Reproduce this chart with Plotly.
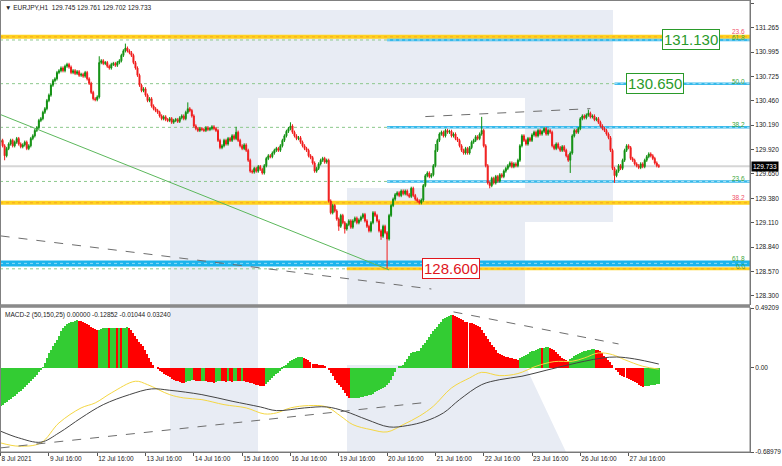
import plotly.graph_objects as go

# ---------------- data ----------------
symbol_header = "\u25BC EURJPY,H1  129.745 129.761 129.702 129.733"
macd_header = "MACD-2 (50,150,25) 0.00000 -0.12852 -0.01044 0.03240"

first_open = 130.00
closes = [
130.02,129.96,129.85,129.93,129.98,130.02,129.96,130.00,130.04,129.98,
129.95,129.97,130.00,129.93,129.96,130.04,130.07,130.13,130.16,130.24,
130.26,130.33,130.37,130.46,130.52,130.63,130.68,130.70,130.77,130.79,
130.82,130.79,130.84,130.86,130.83,130.77,130.79,130.76,130.78,130.74,
130.75,130.73,130.77,130.70,130.65,130.55,130.48,130.47,130.50,130.88,
130.90,130.87,130.88,130.84,130.82,130.86,130.87,130.85,130.88,130.90,
130.96,131.01,131.04,131.01,130.99,130.96,130.88,130.82,130.74,130.63,
130.57,130.59,130.52,130.46,130.48,130.40,130.37,130.35,130.33,130.29,
130.26,130.28,130.25,130.24,130.26,130.22,130.24,130.25,130.23,130.27,
130.29,130.26,130.33,130.37,130.35,130.29,130.18,130.15,130.13,130.15,
130.14,130.13,130.16,130.14,130.15,130.17,130.15,130.13,130.02,129.94,
129.96,130.02,129.98,130.04,130.02,130.07,130.04,130.11,130.02,129.96,
129.93,129.97,129.91,129.80,129.68,129.67,129.71,129.68,129.73,129.70,
129.66,129.74,129.82,129.85,129.84,129.88,129.91,129.93,129.91,129.96,
130.02,130.07,130.12,130.15,130.18,130.11,130.07,130.04,130.05,130.00,
129.96,129.93,129.91,129.85,129.83,129.77,129.68,129.71,129.76,129.80,
129.82,129.78,129.80,129.35,129.22,129.30,129.24,129.15,129.07,129.19,
129.11,129.04,129.09,129.13,129.06,129.13,129.16,129.11,129.14,129.17,
129.20,129.13,129.07,129.02,129.11,129.22,129.19,129.13,129.02,128.96,
129.07,129.00,128.93,129.19,129.30,129.37,129.42,129.44,129.41,129.46,
129.43,129.46,129.42,129.40,129.49,129.41,129.37,129.35,129.33,129.36,
129.52,129.63,129.66,129.62,129.64,129.74,129.91,130.02,130.09,130.11,
130.07,130.13,130.11,130.12,130.07,130.09,130.04,130.02,129.96,129.91,
129.88,129.93,129.88,129.94,130.00,130.02,130.06,130.04,130.09,130.13,
129.96,129.74,129.55,129.52,129.60,129.55,129.62,129.57,129.64,129.62,
129.68,129.71,129.74,129.77,129.73,129.76,129.74,129.80,129.96,130.07,
130.02,129.98,130.04,130.02,130.08,130.11,130.07,130.13,130.09,130.12,
130.15,130.09,130.13,130.11,129.96,129.93,129.98,129.94,129.91,129.95,
129.91,129.85,129.80,129.88,130.07,130.13,130.11,130.15,130.26,130.29,
130.27,130.30,130.32,130.28,130.29,130.25,130.26,130.22,130.18,130.15,
130.13,130.09,130.05,129.91,129.71,129.63,129.68,129.74,129.71,129.80,
129.91,129.96,129.94,129.82,129.80,129.76,129.74,129.72,129.76,129.73,
129.80,129.84,129.87,129.85,129.82,129.77,129.74,129.733,
]
typical_wick = 0.018
spike_highs = {49: 130.95, 62: 131.09, 93: 130.44, 117: 130.17, 144: 130.22,
               239: 130.28, 292: 130.36, 216: 129.98}
spike_lows = {2: 129.80, 192: 128.60, 243: 129.49, 283: 129.66, 305: 129.55,
              189: 128.92, 168: 129.02, 171: 128.99}

hist = [
-0.310,-0.300,-0.288,-0.276,-0.264,-0.252,-0.240,-0.228,-0.214,-0.200,
-0.186,-0.171,-0.156,-0.140,-0.123,-0.106,-0.089,-0.072,-0.055,-0.037,
-0.019,0.002,0.040,0.080,0.120,0.150,0.180,0.205,0.230,0.265,
0.300,0.330,0.345,0.360,0.368,0.375,0.380,0.385,0.390,0.388,
0.385,0.378,0.370,0.360,0.350,0.340,0.330,0.320,0.310,0.315,
0.320,0.324,0.327,0.330,0.325,0.327,0.329,0.330,0.328,0.330,
0.329,0.330,0.331,0.333,0.325,0.310,0.287,0.265,0.240,0.215,
0.195,0.180,0.150,0.115,0.080,0.050,0.025,0.000,-0.012,-0.024,
-0.036,-0.046,-0.055,-0.066,-0.077,-0.087,-0.096,-0.103,-0.110,-0.116,
-0.120,-0.123,-0.118,-0.110,-0.103,-0.096,-0.100,-0.105,-0.108,-0.110,
-0.106,-0.104,-0.108,-0.112,-0.116,-0.118,-0.120,-0.114,-0.110,-0.107,
-0.109,-0.110,-0.113,-0.106,-0.108,-0.112,-0.110,-0.104,-0.106,-0.108,
-0.105,-0.110,-0.114,-0.118,-0.120,-0.126,-0.132,-0.138,-0.143,-0.146,
-0.149,-0.150,-0.135,-0.115,-0.095,-0.080,-0.066,-0.052,-0.040,-0.027,
-0.010,0.008,0.025,0.040,0.055,0.066,0.075,0.082,0.087,0.090,
0.092,0.085,0.075,0.068,0.050,0.036,0.033,0.030,0.028,0.026,
0.025,0.012,0.000,-0.020,-0.045,-0.068,-0.095,-0.120,-0.140,-0.155,
-0.180,-0.205,-0.230,-0.250,-0.249,-0.248,-0.247,-0.246,-0.243,-0.240,
-0.236,-0.232,-0.228,-0.224,-0.220,-0.210,-0.200,-0.190,-0.178,-0.172,
-0.165,-0.156,-0.140,-0.120,-0.096,-0.065,-0.032,0.000,0.010,0.018,
0.027,0.050,0.075,0.100,0.123,0.130,0.134,0.137,0.140,0.160,
0.185,0.205,0.230,0.255,0.280,0.300,0.320,0.340,0.360,0.380,
0.400,0.410,0.420,0.430,0.437,0.432,0.428,0.420,0.410,0.400,
0.390,0.380,0.375,0.370,0.365,0.360,0.353,0.347,0.340,0.315,
0.290,0.260,0.238,0.214,0.190,0.168,0.145,0.123,0.113,0.104,
0.096,0.090,0.086,0.082,0.078,0.074,0.071,0.068,0.080,0.092,
0.102,0.110,0.118,0.128,0.137,0.143,0.150,0.157,0.164,0.160,
0.167,0.170,0.172,0.165,0.158,0.150,0.132,0.114,0.096,0.085,
0.075,0.065,0.055,0.070,0.085,0.098,0.110,0.117,0.124,0.131,
0.137,0.142,0.146,0.150,0.153,0.156,0.150,0.144,0.137,0.120,
0.102,0.085,0.068,0.045,0.022,0.000,-0.018,-0.037,-0.055,-0.064,
-0.072,-0.080,-0.088,-0.096,-0.106,-0.116,-0.127,-0.137,-0.147,-0.156,
-0.152,-0.148,-0.145,-0.142,-0.140,-0.137,-0.133,-0.1285,
]

signal_idx = [0,9,20,29,40,47,55,67,73,84,91,100,111,122,131,137,144,153,162,169,
              175,184,192,200,208,215,224,233,239,248,257,266,275,284,290,297,304,310,319,327]
signal_val = [-0.615,-0.642,-0.615,-0.451,-0.328,-0.287,-0.205,-0.109,-0.137,-0.219,
              -0.246,-0.260,-0.301,-0.328,-0.377,-0.369,-0.328,-0.309,-0.320,-0.396,
              -0.465,-0.506,-0.525,-0.465,-0.396,-0.314,-0.164,-0.082,-0.036,-0.063,
              -0.046,0.014,0.052,0.055,0.082,0.123,0.109,0.068,0.014,-0.010]
main_idx = [0,9,20,29,40,51,64,75,84,100,115,129,137,151,162,171,182,193,202,211,
            220,228,239,248,259,271,282,290,299,306,315,327]
main_val = [-0.519,-0.574,-0.609,-0.533,-0.410,-0.301,-0.219,-0.172,-0.183,-0.219,
            -0.273,-0.320,-0.350,-0.328,-0.320,-0.355,-0.424,-0.484,-0.473,-0.437,
            -0.369,-0.260,-0.137,-0.096,-0.068,-0.019,0.025,0.055,0.082,0.090,
            0.074,0.032]

tick_idx = [0,24,48,72,96,120,144,168,192,216,240,264,288,312]
tick_text = ["8 Jul 2021","9 Jul 16:00","12 Jul 16:00","13 Jul 16:00","14 Jul 16:00",
             "15 Jul 16:00","16 Jul 16:00","19 Jul 16:00","20 Jul 16:00","21 Jul 16:00",
             "22 Jul 16:00","23 Jul 16:00","26 Jul 16:00","27 Jul 16:00"]
price_ticks = [131.535,131.265,130.995,130.725,130.460,130.190,129.920,129.650,
               129.380,129.110,128.840,128.570,128.300]
macd_ticks = [0.49209, 0.0, -0.68979]
macd_tick_text = ["0.49209", "0.00", "-0.68979"]

# Fibonacci (cyan set) anchored at the 20 Jul low
fib_anchor_idx = 192
fib_levels = [128.600, 129.566, 130.164, 130.647, 131.130]
fib_labels = ["0.0", "23.6", "38.2", "50.0", "61.8"]
fib_start_idx = [172, 192, 192, 305, 192]
# other (gold / red-labelled) levels
gold_levels = [131.165, 129.330]
gold_labels = ["23.6", "38.2"]
blue_band_level = 128.660
blue_band_label = "61.8"
last_price = 129.733

box_labels = [("131.130", 343, 131.130, "#2a9a2a"),
              ("130.650", 325, 130.650, "#2a9a2a"),
              ("128.600", 224, 128.600, "#e0161c")]

trend_green = ([0, 193], [130.305, 128.588])
dash_price_1 = ([0, 214], [128.964, 128.377])
dash_price_2 = ([211, 293], [130.283, 130.371])
dash_macd_1 = ([225, 307], [0.460, 0.197])
dash_macd_2 = ([0, 209], [-0.656, -0.287])

# ---------------- build ----------------
n = len(closes)
xs = list(range(n))
opens = [first_open] + closes[:-1]
highs = [max(o, c) + typical_wick for o, c in zip(opens, closes)]
lows = [min(o, c) - typical_wick for o, c in zip(opens, closes)]
for k, v in spike_highs.items():
    highs[k] = max(highs[k], v)
for k, v in spike_lows.items():
    lows[k] = min(lows[k], v)

hist_colors = ["#33cc33" if i == 0 or hist[i] >= hist[i - 1] else "#ff0000" for i in range(len(hist))]

XMIN, XMAX = -0.3, 372.3
W, H = 782, 466
ML, MR, MT, MB = 0, 32, 0, 14
PW, PH = W - ML - MR, H - MT - MB


def px(xp):
    return xp / PW


def py(yp):
    return (PH - yp) / PH


FONT = "Liberation Sans"
TXT = "#222222"
fig = go.Figure()

fig.add_trace(go.Candlestick(
    x=xs, open=opens, high=highs, low=lows, close=closes,
    increasing=dict(line=dict(color="#0f8f0f", width=1), fillcolor="#0f8f0f"),
    decreasing=dict(line=dict(color="#f01c1c", width=1), fillcolor="#f01c1c"),
    whiskerwidth=0, showlegend=False, hoverinfo="skip", xaxis="x", yaxis="y"))

fig.add_trace(go.Scatter(x=trend_green[0], y=trend_green[1], mode="lines", line=dict(color="#5cb85c", width=1),
                         showlegend=False, hoverinfo="skip", xaxis="x", yaxis="y"))
for xx, yy in [dash_price_1, dash_price_2]:
    fig.add_trace(go.Scatter(x=xx, y=yy, mode="lines", line=dict(color="#6e6e6e", width=1, dash="dash"),
                             showlegend=False, hoverinfo="skip", xaxis="x", yaxis="y"))

fig.add_trace(go.Bar(x=xs, y=hist, marker=dict(color=hist_colors, line=dict(width=0)), width=0.6,
                     showlegend=False, hoverinfo="skip", xaxis="x2", yaxis="y2"))
fig.add_trace(go.Scatter(x=signal_idx, y=signal_val, mode="lines", line=dict(color="#f5d742", width=1, shape="spline"),
                         showlegend=False, hoverinfo="skip", xaxis="x2", yaxis="y2"))
fig.add_trace(go.Scatter(x=main_idx, y=main_val, mode="lines", line=dict(color="#444444", width=1, shape="spline"),
                         showlegend=False, hoverinfo="skip", xaxis="x2", yaxis="y2"))
for xx, yy in [dash_macd_1, dash_macd_2]:
    fig.add_trace(go.Scatter(x=xx, y=yy, mode="lines", line=dict(color="#6e6e6e", width=1, dash="dash"),
                             showlegend=False, hoverinfo="skip", xaxis="x2", yaxis="y2"))

shapes = []
WM = "#e8ecf4"


def rect_px(x0, y0, x1, y1):
    shapes.append(dict(type="rect", xref="paper", yref="paper", x0=px(x0), x1=px(x1),
                       y0=py(y1), y1=py(y0), fillcolor=WM, line=dict(width=0), layer="below"))


# watermark logo (paper coordinates)
rect_px(170, 10, 258, 452)
rect_px(258, 10, 613, 98)
rect_px(525, 10, 613, 222)
rect_px(347, 188, 613, 222)
rect_px(347, 188, 525, 305)
shapes.append(dict(type="path", xref="paper", yref="paper",
                   path=f"M {px(347)} {py(365)} L {px(525)} {py(365)} L {px(566)} {py(452)} L {px(347)} {py(452)} Z",
                   fillcolor=WM, line=dict(width=0), layer="below"))


def hline(y, x0, x1, color, width, dash="solid"):
    shapes.append(dict(type="line", xref="x", yref="y", x0=x0, x1=x1, y0=y, y1=y,
                       line=dict(color=color, width=width, dash=dash), layer="below"))


# current price line
hline(last_price, XMIN, XMAX, "#d6d6d6", 2)
# gold bands
for lv in gold_levels:
    hline(lv, XMIN, XMAX, "#ffd21f", 4)
    hline(lv, XMIN, XMAX, "#f5a623", 1, "dot")
# blue band
hline(blue_band_level, XMIN, XMAX, "#1cb4ec", 6)
hline(blue_band_level, XMIN, XMAX, "#8fdcf8", 1, "dot")
# fib levels
for lv, lab, st in zip(fib_levels, fib_labels, fib_start_idx):
    hline(lv, XMIN, st, "#8cc88c", 1, "dot")
    if lab == "0.0":
        hline(lv, st, XMAX, "#ffd21f", 3)
        hline(lv, st, XMAX, "#f5a623", 1, "dot")
    else:
        hline(lv, st, XMAX, "#36b9ea", 2.5)
        hline(lv, st, XMAX, "#a8e2fa", 1, "dot")

# pane frames and separator
shapes.append(dict(type="rect", xref="paper", yref="paper", x0=px(0.5), x1=px(750), y0=py(305), y1=py(0.5),
                   line=dict(color="#808080", width=1), fillcolor="rgba(0,0,0,0)"))
shapes.append(dict(type="rect", xref="paper", yref="paper", x0=px(0.5), x1=px(750), y0=py(452), y1=py(307),
                   line=dict(color="#808080", width=1), fillcolor="rgba(0,0,0,0)"))
shapes.append(dict(type="line", xref="paper", yref="paper", x0=0, x1=px(750), y0=py(306), y1=py(306),
                   line=dict(color="#8a8a8a", width=3)))

annotations = []
annotations.append(dict(xref="paper", yref="paper", x=px(3), y=py(2), xanchor="left", yanchor="top",
                        text=symbol_header, showarrow=False, font=dict(family=FONT, size=6.5, color=TXT)))
annotations.append(dict(xref="paper", yref="paper", x=px(3), y=py(309), xanchor="left", yanchor="top",
                        text=macd_header, showarrow=False, font=dict(family=FONT, size=6.5, color=TXT)))

lab_x = 370.5
for lv, lab in zip(fib_levels, fib_labels):
    annotations.append(dict(xref="x", yref="y", x=lab_x, y=lv, xanchor="right", yanchor="bottom",
                            text=lab, showarrow=False, font=dict(family=FONT, size=6.5, color="#3aa53a"),
                            borderpad=0, yshift=-2))
for lv, lab in zip(gold_levels, gold_labels):
    annotations.append(dict(xref="x", yref="y", x=lab_x, y=lv, xanchor="right", yanchor="bottom",
                            text=lab, showarrow=False, font=dict(family=FONT, size=6.5, color="#f0506a"),
                            borderpad=0, yshift=1))
annotations.append(dict(xref="x", yref="y", x=lab_x, y=blue_band_level, xanchor="right", yanchor="bottom",
                        text=blue_band_label, showarrow=False, font=dict(family=FONT, size=6.5, color="#3aa53a"),
                        borderpad=0, yshift=0))

for txt, xi, yv, col in box_labels:
    annotations.append(dict(xref="x", yref="y", x=xi, y=yv, xanchor="center", yanchor="middle",
                            text=txt, showarrow=False, font=dict(family=FONT, size=15, color=col),
                            bgcolor="white", bordercolor=col, borderwidth=1, borderpad=1))

annotations.append(dict(xref="paper", yref="y", x=1.0, y=last_price, xanchor="left", yanchor="middle",
                        text="129.733", showarrow=False, font=dict(family=FONT, size=6.5, color="white"),
                        bgcolor="black", borderpad=1, xshift=1))

axis_common = dict(showgrid=False, zeroline=False)
fig.update_layout(
    width=W, height=H, margin=dict(l=ML, r=MR, t=MT, b=MB, autoexpand=False),
    paper_bgcolor="white", plot_bgcolor="rgba(0,0,0,0)",
    showlegend=False, bargap=0,
    shapes=shapes, annotations=annotations,
    xaxis=dict(domain=[0, 1], range=[XMIN, XMAX], anchor="y", showticklabels=False,
               rangeslider=dict(visible=False), matches="x2", **axis_common),
    xaxis2=dict(domain=[0, 1], range=[XMIN, XMAX], anchor="y2", tickmode="array",
                tickvals=tick_idx, ticktext=tick_text, ticks="outside", ticklen=3,
                tickcolor="#555555", ticklabelposition="outside right",
                tickfont=dict(family=FONT, size=6.5, color=TXT), showline=True,
                linecolor="#707070", **axis_common),
    yaxis=dict(domain=[py(305), 1], range=[128.20, 131.572], side="right", anchor="x",
               tickmode="array", tickvals=price_ticks, ticktext=[f"{v:.3f}" for v in price_ticks],
               ticks="outside", ticklen=3, tickcolor="#555555",
               tickfont=dict(family=FONT, size=6.5, color=TXT), showline=True, linecolor="#707070",
               **axis_common),
    yaxis2=dict(domain=[0, py(308)], range=[-0.68979, 0.49209], side="right", anchor="x2",
                tickmode="array", tickvals=macd_ticks, ticktext=macd_tick_text,
                ticks="outside", ticklen=3, tickcolor="#555555",
                tickfont=dict(family=FONT, size=6.5, color=TXT), showline=True, linecolor="#707070",
                **axis_common),
)

fig.write_html("out.html", config={"displayModeBar": False},
               post_script="document.body.style.margin='0';document.body.style.overflow='hidden';")
